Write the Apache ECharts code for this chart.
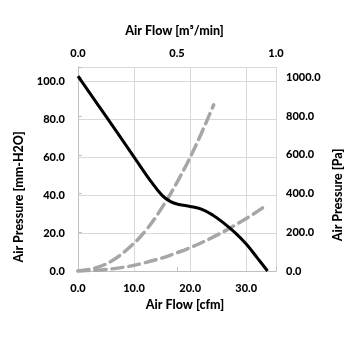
<!DOCTYPE html>
<html>
<head>
<meta charset="utf-8">
<script src="https://cdn.jsdelivr.net/npm/echarts@6/dist/echarts.min.js"></script>
<style>html,body{margin:0;padding:0;background:#fff}#c{width:355px;height:355px}</style>
</head>
<body>
<div id="c"></div>
<script>
// Fan curve (air pressure mm-H2O vs air flow cfm)
const fanFlow =     [0, 5, 10, 13, 15, 16.5, 18, 20, 22, 24, 26, 28, 30, 32, 33.8];
const fanPressure = [102.6, 81.4, 60, 47.2, 39.8, 36.5, 35, 34, 32.6, 29.5, 25.2, 20.2, 14.2, 6.8, 0];
// System impedance curve 1 (steep)
const sys1Flow =     [0, 3, 6, 9, 12, 15, 18, 21, 24.2];
const sys1Pressure = [0, 1.5, 5.3, 12, 21, 33.5, 48.5, 66, 87.5];
// System impedance curve 2 (shallow)
const sys2Flow =     [0, 6, 12, 18, 24, 30, 33.3];
const sys2Pressure = [0, 1.1, 4.4, 10, 17.7, 27.6, 34];

const cfmMax = 35.31;          // 1 m3/min
const mmMax = 107.4;           // left axis top
const paMax = mmMax * 9.80665; // right axis top

const pairs = (xs, ys) => xs.map((x, i) => [x, ys[i]]);
const FONT = 'Lato';
const lblStyle = {color: '#000', fontFamily: FONT, fontWeight: 900, fontSize: 11};
const nameStyle = {color: '#000', fontFamily: FONT, fontWeight: 900, fontSize: 12.5};
const hideMax = (max) => (v) => Math.abs(v - max) < 1e-6 ? '' : v.toFixed(1);

const chart = echarts.init(document.getElementById('c'));
chart.setOption({
  animation: false,
  grid: {left: 78, right: 79, top: 67, bottom: 84},
  xAxis: [
    {
      type: 'value', position: 'bottom', min: 0, max: cfmMax, interval: 10,
      name: 'Air Flow [cfm]', nameLocation: 'middle', nameGap: 24,
      nameTextStyle: Object.assign({}, nameStyle, {padding: [0, 0, 0, 16]}),
      axisLine: {show: true, lineStyle: {color: '#bfbfbf', width: 1}},
      axisTick: {show: false},
      axisLabel: Object.assign({}, lblStyle, {margin: 12, formatter: hideMax(cfmMax)}),
      splitLine: {show: true, lineStyle: {color: '#d9d9d9', width: 1}}
    },
    {
      type: 'value', position: 'top', min: 0, max: 1, interval: 0.5,
      name: 'Air Flow [m³/min]', nameLocation: 'middle', nameGap: 30,
      nameTextStyle: Object.assign({}, nameStyle, {padding: [0, 5, 0, 0]}),
      axisLine: {show: true, lineStyle: {color: '#bfbfbf', width: 1}},
      axisTick: {show: true, inside: false, length: 4, lineStyle: {color: '#bfbfbf'}},
      axisLabel: Object.assign({}, lblStyle, {margin: 8, formatter: (v) => v.toFixed(1)}),
      splitLine: {show: false}
    }
  ],
  yAxis: [
    {
      type: 'value', position: 'left', min: 0, max: mmMax, interval: 20,
      name: 'Air Pressure [mm-H2O]', nameLocation: 'middle', nameGap: 48, nameRotate: 90,
      nameTextStyle: Object.assign({}, nameStyle, {padding: [0, 56, 0, 0]}),
      axisLine: {show: true, lineStyle: {color: '#bfbfbf', width: 1}},
      axisTick: {show: false},
      axisLabel: Object.assign({}, lblStyle, {margin: 13, formatter: hideMax(mmMax)}),
      splitLine: {show: true, lineStyle: {color: '#d9d9d9', width: 1}}
    },
    {
      type: 'value', position: 'right', min: 0, max: paMax, interval: 200,
      name: 'Air Pressure [Pa]', nameLocation: 'middle', nameGap: 50, nameRotate: 90,
      nameTextStyle: Object.assign({}, nameStyle, {padding: [0, 52, 0, 0]}),
      axisLine: {show: true, lineStyle: {color: '#bfbfbf', width: 1}},
      axisTick: {show: true, inside: false, length: 4, lineStyle: {color: '#bfbfbf'}},
      axisLabel: Object.assign({}, lblStyle, {margin: 10, formatter: hideMax(paMax)}),
      splitLine: {show: false}
    }
  ],
  series: [
    {
      type: 'line', xAxisIndex: 0, yAxisIndex: 0, smooth: 0.4, showSymbol: false,
      data: pairs(sys1Flow, sys1Pressure),
      lineStyle: {color: '#a6a6a6', width: 3.5, type: [11, 6], cap: 'round'}, z: 2
    },
    {
      type: 'line', xAxisIndex: 0, yAxisIndex: 0, smooth: 0.4, showSymbol: false,
      data: pairs(sys2Flow, sys2Pressure),
      lineStyle: {color: '#a6a6a6', width: 3.5, type: [11, 6], cap: 'round'}, z: 2
    },
    {
      type: 'line', xAxisIndex: 0, yAxisIndex: 0, smooth: 0.4, showSymbol: false,
      data: pairs(fanFlow, fanPressure),
      lineStyle: {color: '#000', width: 3}, z: 3
    }
  ]
});
</script>
</body>
</html>
